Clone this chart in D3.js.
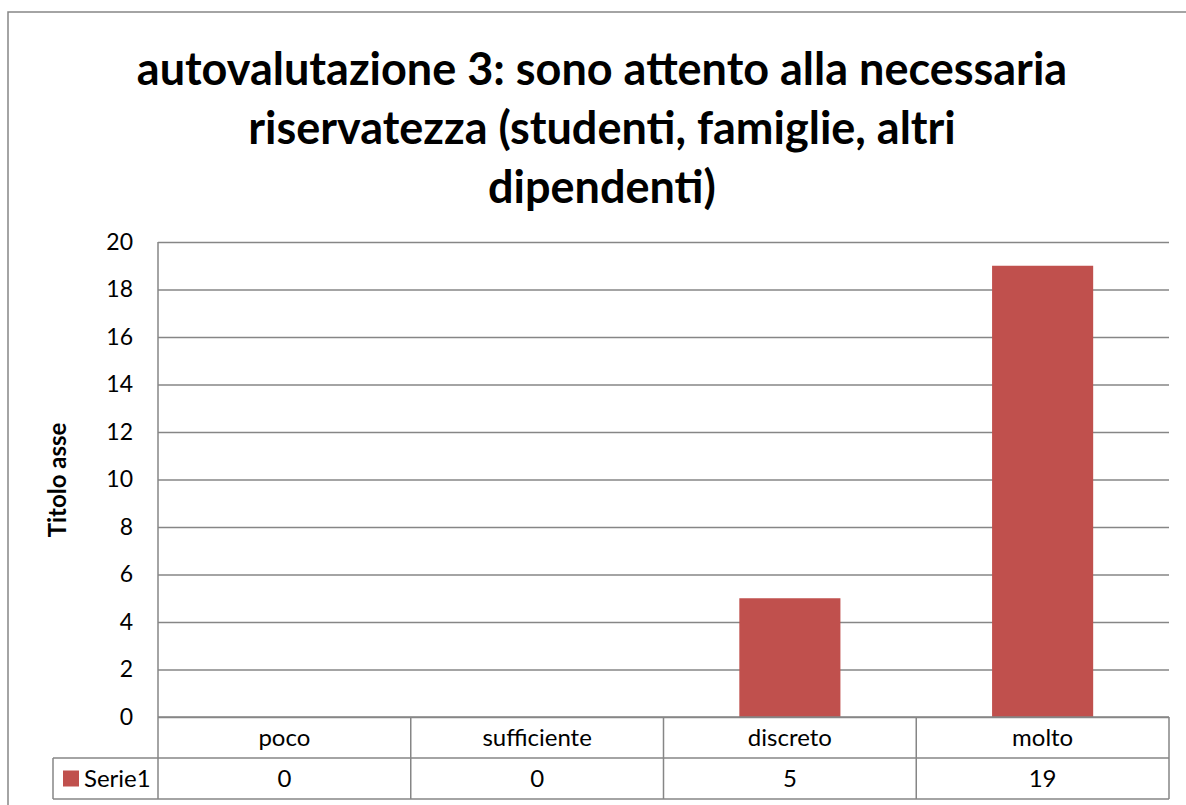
<!DOCTYPE html>
<html lang="it">
<head>
    <meta charset="UTF-8">
    <title>autovalutazione 3</title>
    <style>
        body { margin: 0; background: #fff; }
        text { font-family: Lato, "Open Sans", sans-serif; fill: #000; }
    </style>
</head>
<body>
    <svg id="chart" width="1186" height="805"></svg>

    <script src="https://d3js.org/d3.v7.min.js"></script>
    <script>
        // data
        const titleLines = ["autovalutazione 3: sono attento alla necessaria",
                            "riservatezza (studenti, famiglie, altri",
                            "dipendenti)"]
        const categories = ["poco", "sufficiente", "discreto", "molto"]
        const serie1 = [0, 0, 5, 19]
        const seriesName = "Serie1"
        const yTicks = [0, 2, 4, 6, 8, 10, 12, 14, 16, 18, 20]
        const yTitle = "Titolo asse"

        const grid = "#868686"
        const barColor = "#C0504D"

        const plotLeft = 158, plotRight = 1169, plotTop = 242, plotBottom = 717
        const rowH = 41
        const tableLeft = 53
        const labelSize = 24

        const svg = d3.select("#chart")

        // outer chart border (only top and left are in frame)
        svg.append("path")
            .attr("d", `M8,805V12H1186`)
            .attr("fill", "none")
            .attr("stroke", grid)
            .attr("stroke-width", 1.5)

        // title
        const title = svg.append("text")
            .attr("text-anchor", "middle")
            .attr("font-weight", "bold")
            .attr("font-size", 45)
        title.selectAll("tspan")
            .data(titleLines)
            .enter()
            .append("tspan")
            .attr("x", 602)
            .attr("y", (d, i) => 85 + i * 59)
            .text(d => d)

        // scales
        const yscale = d3.scaleLinear()
            .domain([0, 20])
            .range([plotBottom, plotTop])

        const colScale = d3.scaleBand()
            .domain(categories)
            .range([plotLeft, plotRight])

        const barScale = d3.scaleBand()
            .domain(categories)
            .range([plotLeft, plotRight])
            .paddingInner(0.6)
            .paddingOuter(0.3)

        // y axis with gridlines
        const yAxis = svg.append("g")
            .attr("transform", `translate(${plotLeft}, 0)`)
            .call(d3.axisLeft(yscale)
                .tickValues(yTicks)
                .tickSize(-(plotRight - plotLeft))
                .tickPadding(25))
        yAxis.select(".domain").remove()
        yAxis.selectAll(".tick line")
            .attr("stroke", grid)
            .attr("stroke-width", 1.5)
        yAxis.selectAll(".tick text")
            .attr("font-size", 23)
            .attr("font-family", "Lato, 'Open Sans', sans-serif")
            .attr("fill", "#000")

        // bars
        svg.append("g")
            .selectAll("rect")
            .data(serie1)
            .enter()
            .append("rect")
            .attr("x", (d, i) => barScale(categories[i]))
            .attr("y", d => yscale(d))
            .attr("width", barScale.bandwidth())
            .attr("height", d => yscale(0) - yscale(d))
            .attr("fill", barColor)

        // y axis line
        svg.append("line")
            .attr("x1", plotLeft).attr("x2", plotLeft)
            .attr("y1", plotTop).attr("y2", plotBottom + 2 * rowH)
            .attr("stroke", grid)
            .attr("stroke-width", 1.5)

        // y axis title
        svg.append("text")
            .attr("transform", `translate(66, 480) rotate(-90)`)
            .attr("text-anchor", "middle")
            .attr("font-weight", "bold")
            .attr("font-size", labelSize)
            .text(yTitle)

        // data table
        const table = svg.append("g")
            .attr("stroke", grid)
            .attr("stroke-width", 1.5)
        table.append("line")
            .attr("x1", plotLeft).attr("x2", plotRight)
            .attr("y1", plotBottom).attr("y2", plotBottom)
        table.append("line")
            .attr("x1", tableLeft).attr("x2", plotRight)
            .attr("y1", plotBottom + rowH).attr("y2", plotBottom + rowH)
        table.append("line")
            .attr("x1", tableLeft).attr("x2", plotRight)
            .attr("y1", plotBottom + 2 * rowH).attr("y2", plotBottom + 2 * rowH)
        table.append("line")
            .attr("x1", tableLeft).attr("x2", tableLeft)
            .attr("y1", plotBottom + rowH).attr("y2", plotBottom + 2 * rowH)
        table.selectAll("line.col")
            .data(categories)
            .enter()
            .append("line")
            .attr("class", "col")
            .attr("x1", d => colScale(d) + colScale.bandwidth())
            .attr("x2", d => colScale(d) + colScale.bandwidth())
            .attr("y1", plotBottom)
            .attr("y2", plotBottom + 2 * rowH)

        svg.append("g")
            .selectAll("text")
            .data(categories)
            .enter()
            .append("text")
            .attr("x", d => colScale(d) + colScale.bandwidth() / 2)
            .attr("y", plotBottom + rowH / 2)
            .attr("dy", "0.35em")
            .attr("text-anchor", "middle")
            .attr("font-size", labelSize)
            .text(d => d)

        svg.append("g")
            .selectAll("text")
            .data(serie1)
            .enter()
            .append("text")
            .attr("x", (d, i) => colScale(categories[i]) + colScale.bandwidth() / 2)
            .attr("y", plotBottom + rowH * 1.5)
            .attr("dy", "0.35em")
            .attr("text-anchor", "middle")
            .attr("font-size", labelSize)
            .text(d => d)

        // legend key in the table
        svg.append("rect")
            .attr("x", 63)
            .attr("y", plotBottom + rowH * 1.5 - 8)
            .attr("width", 16)
            .attr("height", 16)
            .attr("fill", barColor)
        svg.append("text")
            .attr("x", 84)
            .attr("y", plotBottom + rowH * 1.5)
            .attr("dy", "0.35em")
            .attr("font-size", labelSize)
            .text(seriesName)
    </script>
</body>
</html>
